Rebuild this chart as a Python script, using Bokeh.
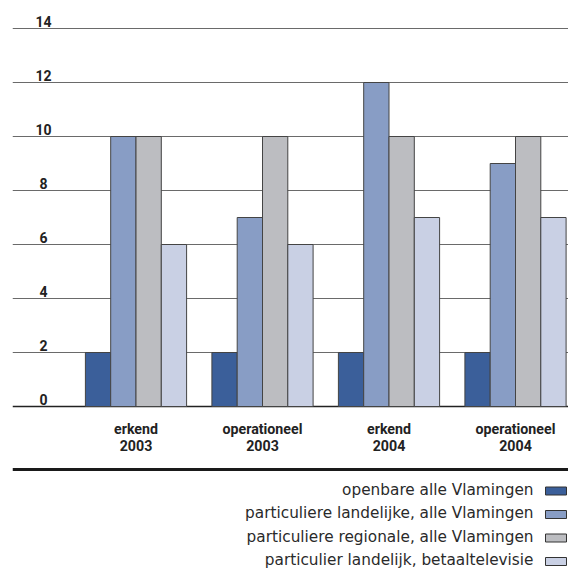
from bokeh.plotting import figure
from bokeh.models import Range1d, ColumnDataSource
from bokeh.core.properties import value
from bokeh.embed import file_html
from bokeh.resources import INLINE

# ---- data ----
categories = ["erkend\n2003", "operationeel\n2003", "erkend\n2004", "operationeel\n2004"]
series_names = [
    "openbare alle Vlamingen",
    "particuliere landelijke, alle Vlamingen",
    "particuliere regionale, alle Vlamingen",
    "particulier landelijk, betaaltelevisie",
]
openbare = [2, 2, 2, 2]
part_landelijk = [10, 7, 12, 9]
part_regionaal = [10, 10, 10, 10]
betaaltv = [6, 6, 7, 7]
series_values = [openbare, part_landelijk, part_regionaal, betaaltv]
colors = ["#3b5f9a", "#889dc5", "#bcbdc1", "#c9d0e4"]
y_ticks = [0, 2, 4, 6, 8, 10, 12, 14]

W, H = 568, 568
# pixel helpers (layout only): page x = X0 + DX*c ; page y = Y0 - DY*v
X0, DX = 135.5, 126.5
Y0, DY = 406.0, 27.0
def cx(px):
    return (px - X0) / DX
def vy(py):
    return (Y0 - py) / DY

p = figure(width=W, height=H, output_backend="svg", toolbar_location=None,
           x_axis_location=None, y_axis_location=None,
           min_border_left=12, min_border_right=0, min_border_top=0, min_border_bottom=0,
           x_range=Range1d(cx(12), cx(568)), y_range=Range1d(vy(568), vy(0)))
p.outline_line_color = None
p.xgrid.visible = False
p.ygrid.visible = False
p.background_fill_color = "white"
p.border_fill_color = "white"

# gridlines
grid_y = [t for t in y_ticks if t != 0]
p.hspan(y=grid_y, line_color="#6a6a6a", line_width=1)
p.hspan(y=[0], line_color="#222222", line_width=1.3)

# y labels above gridlines
p.text(x=[cx(43)] * len(y_ticks), y=[t + 2 / DY for t in y_ticks], text=[str(t) for t in y_ticks],
       text_align="center", text_baseline="bottom", text_font=value("Roboto"),
       text_font_style="bold", text_font_size="14px", text_color="#222222")

# bars
offsets = [-0.3, -0.1, 0.1, 0.3]
for vals, col, off in zip(series_values, colors, offsets):
    src = ColumnDataSource(dict(x=[i + off for i in range(len(categories))], top=vals))
    p.vbar(x="x", top="top", bottom=0, width=0.2, source=src,
           fill_color=col, line_color="#444444", line_width=1)

# category labels
p.text(x=list(range(len(categories))), y=[vy(437)] * len(categories), text=categories,
       text_align="center", text_baseline="middle", text_font=value("Roboto"),
       text_font_style="bold", text_font_size="14.2px", text_color="#222222",
       text_line_height=1.12)

# thick separator line
p.hspan(y=[vy(469)], line_color="#1a1a1a", line_width=3)

# legend
leg_text_y = [vy(yy) for yy in [489, 512.5, 536, 559.5]]
leg_sq_y = [vy(yy) for yy in [490.5, 514, 537.5, 561]]
p.text(x=[cx(533)] * 4, y=leg_text_y, text=series_names, text_align="right", text_baseline="middle",
       text_font=value("DejaVu Sans"), text_font_size="15.3px", text_color="#2a2a2a")
p.rect(x=[cx(555.5)] * 4, y=leg_sq_y, width=21, height=8, width_units="screen", height_units="screen",
       fill_color=colors, line_color="#333333", line_width=1)

open("out.html", "w").write(file_html(p, INLINE))
